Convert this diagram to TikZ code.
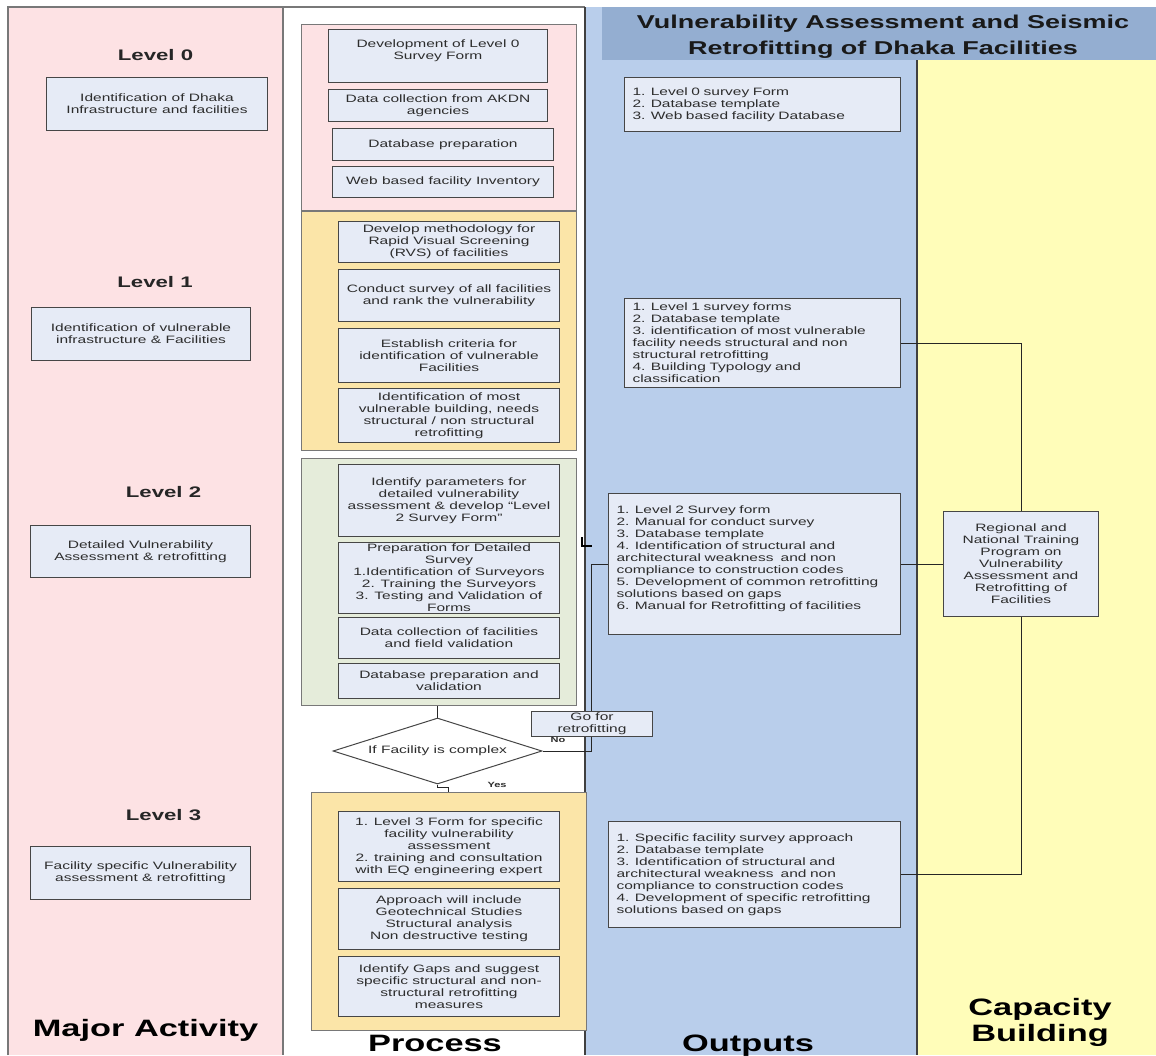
\documentclass[tikz,border=0pt]{standalone}
\usepackage{fontspec}
\setmainfont[FakeStretch=1.45]{Liberation Sans}
\usetikzlibrary{shapes.geometric,calc}
\pgfdeclarelayer{lanes}
\pgfdeclarelayer{wires}
\pgfsetlayers{lanes,wires,main}

\definecolor{pinklane}{RGB}{253,226,228}
\definecolor{bluelane}{RGB}{185,206,235}
\definecolor{capyellow}{RGB}{255,253,185}
\definecolor{titlebar}{RGB}{148,174,209}
\definecolor{boxfill}{RGB}{230,235,246}
\definecolor{boxline}{RGB}{70,70,70}
\definecolor{grpline}{RGB}{120,120,120}
\definecolor{yellowgrp}{RGB}{251,229,168}
\definecolor{greengrp}{RGB}{229,236,218}
\definecolor{laneline}{RGB}{120,120,120}
\definecolor{txt}{RGB}{45,45,45}

\newcommand\bodysize{\fontsize{10.7}{12}\selectfont}
\newcommand\levelsize{\fontsize{15.3}{18}\selectfont\bfseries}
\newcommand\bigsize{\fontsize{23.7}{26}\selectfont\bfseries}
\newcommand\titlesize{\fontsize{18.6}{26}\selectfont\bfseries}
\newcommand\tagsize{\fontsize{7.6}{9}\selectfont\bfseries}

% rectangle node from its top-left (x1,y1) and bottom-right (x2,y2) corners
\newcommand\rbox[7][]{%
  \pgfmathsetmacro\rboxw{#4-#2}%
  \pgfmathsetmacro\rboxh{#5-#3}%
  \node[box,anchor=north west,minimum width=\rboxw pt,minimum height=\rboxh pt,#1] (#6) at (#2,#3) {#7};}

\begin{document}
\begin{tikzpicture}[x=1pt,y=-1pt,
  box/.style={draw=boxline,fill=boxfill,line width=1pt,inner sep=0pt,
    font=\bodysize,text=txt,align=center},
  group/.style={draw=grpline,line width=1pt},
  obox/.style={align=left,inner xsep=8pt},
  dia/.style={diamond,draw=boxline,fill=white,line width=1pt,shape aspect=3.17,
    inner sep=0pt,minimum width=209pt,minimum height=66pt,font=\bodysize,text=txt},
  level/.style={font=\levelsize,text=black!85,anchor=base},
  lane label/.style={font=\bigsize,text=black,anchor=base,align=center},
  tag/.style={font=\tagsize,text=txt},
  wire/.style={draw=black!85,line width=0.9pt}]

\useasboundingbox (0,0) rectangle (1156,1055);

% swim lanes and title bar
\begin{pgfonlayer}{lanes}
  \fill[white] (0,0) rectangle (1156,1055);
  \fill[pinklane] (8,7) rectangle (283,1055);
  \fill[bluelane] (585,7) rectangle (917,1055);
  \fill[capyellow] (917,60) rectangle (1156,1055);
  \fill[titlebar] (602,7) rectangle (1156,60);
  \draw[laneline,line width=1.2pt] (8,1055) -- (8,7) -- (585,7);
  \draw[laneline,line width=1.2pt] (283,7) -- (283,1055);
  \draw[black!75,line width=1.2pt] (585,7) -- (585,1055);
  \draw[black!75,line width=1.2pt] (917,60) -- (917,1055);
\end{pgfonlayer}

\node[font=\titlesize,text=black!90,align=center] (title) at (883,36.5)
  {Vulnerability Assessment and Seismic\\Retrofitting of Dhaka Facilities};

% Major Activity lane
\node[level] (lev0) at (155.5,60.5) {Level 0};
\node[level] (lev1) at (155,287.5) {Level 1};
\node[level] (lev2) at (163.5,497.5) {Level 2};
\node[level] (lev3) at (163.5,820.5) {Level 3};
\rbox{46}{77}{267}{130}{ma0}{Identification of Dhaka\\Infrastructure and facilities}
\rbox{31}{307}{250}{360}{ma1}{Identification of vulnerable\\infrastructure \& Facilities}
\rbox{30}{525}{250}{577}{ma2}{Detailed Vulnerability\\Assessment \& retrofitting}
\rbox{30}{846}{250}{899}{ma3}{Facility specific Vulnerability\\assessment \& retrofitting}
\node[lane label] (lblma) at (145.5,1036.5) {Major Activity};

% Process lane: grouped steps
\rbox[group,fill=pinklane]{301}{24}{576}{210}{grp0}{}
\rbox[group,fill=yellowgrp]{301}{211}{576}{450}{grp1}{}
\rbox[group,fill=greengrp]{301}{458}{576}{705}{grp2}{}
\rbox[group,fill=yellowgrp]{311}{792}{586}{1030}{grp3}{}

\rbox{328}{29}{547}{82}{pA}{Development of Level 0\\Survey Form\\\mbox{}}
\rbox{328}{89}{547}{121}{pB}{Data collection from AKDN\\agencies}
\rbox{332}{128}{553}{160}{pC}{Database preparation}
\rbox{332}{166}{553}{197}{pD}{Web based facility Inventory}

\rbox{338}{221}{559}{262}{pE}{Develop methodology for\\Rapid Visual Screening\\(RVS) of facilities}
\rbox{338}{269}{559}{321}{pF}{Conduct survey of all facilities\\and rank the vulnerability}
\rbox{338}{328}{559}{382}{pG}{Establish criteria for\\identification of vulnerable\\Facilities}
\rbox{338}{388}{559}{442}{pH}{Identification of most\\vulnerable building, needs\\structural / non structural\\retrofitting}

\rbox{338}{464}{559}{536}{pI}{Identify parameters for\\detailed vulnerability\\assessment \& develop “Level\\2 Survey Form”}
\rbox{338}{542}{559}{613}{pJ}{Preparation for Detailed\\Survey\\1.Identification of Surveyors\\2. Training the Surveyors\\3. Testing and Validation of\\Forms}
\rbox{338}{617}{559}{658}{pK}{Data collection of facilities\\and field validation}
\rbox{338}{663}{559}{698}{pL}{Database preparation and\\validation}

\node[dia] (dia) at (437.5,751) {If Facility is complex};
\rbox{531}{711}{652}{736}{go}{Go for\\retrofitting}
\node[tag] (lblno) at (558,740) {No};
\node[tag] (lblyes) at (497,785) {Yes};

\rbox{338}{811}{559}{881}{pM}{1. Level 3 Form for specific\\facility vulnerability\\assessment\\2. training and consultation\\with EQ engineering expert}
\rbox{338}{888}{559}{949}{pN}{Approach will include\\Geotechnical Studies\\Structural analysis\\Non destructive testing}
\rbox{338}{956}{559}{1016}{pO}{Identify Gaps and suggest\\specific structural and non-\\structural retrofitting\\measures}
\node[lane label] (lblproc) at (435,1051.5) {Process};

% Outputs lane
\rbox[obox,text width=260pt]{624}{77}{900}{131}{o0}{1. Level 0 survey Form\\2. Database template\\3. Web based facility Database}
\rbox[obox,text width=260pt]{624}{298}{900}{387}{o1}{1. Level 1 survey forms\\2. Database template\\3. identification of most vulnerable\\facility needs structural and non\\structural retrofitting\\4. Building Typology and\\classification}
\rbox[obox,text width=276pt]{608}{493}{900}{634}{o2}{1. Level 2 Survey form\\2. Manual for conduct survey\\3. Database template\\4. Identification of structural and\\architectural weakness\ \ and non\\compliance to construction codes\\5. Development of common retrofitting\\solutions based on gaps\\6. Manual for Retrofitting of facilities\\\mbox{}}
\rbox[obox,text width=276pt]{608}{821}{900}{927}{o3}{1. Specific facility survey approach\\2. Database template\\3. Identification of structural and\\architectural weakness\ \ and non\\compliance to construction codes\\4. Development of specific retrofitting\\solutions based on gaps}
\node[lane label] (lblout) at (748,1051.5) {Outputs};

% Capacity Building lane
\rbox{943}{511}{1098}{616}{train}{Regional and\\National Training\\Program on\\Vulnerability\\Assessment and\\Retrofitting of\\Facilities}
\node[font=\bigsize,align=center] (lblcap) at (1040,1022.4) {Capacity\\Building};

% connectors
\begin{pgfonlayer}{wires}
  \draw[wire] (dia.north |- grp2.south) -- (dia.north);
  \draw[wire] (dia.south) -- ++(0,3) -| ($(grp3.north west)+(137,0)$);
  \draw[wire] (dia.east) -| ($(o2.west)+(-17,0)$) -- (o2.west);
  \draw[wire] (o2.east) -- (train.west);
  \draw[wire] (o1.east) -| (train.north);
  \draw[wire] (train.south) |- (o3.east);
  \draw[black,line width=1.6pt] (582,537) -- (582,546) -- (592,546);
\end{pgfonlayer}
\end{tikzpicture}
\end{document}
